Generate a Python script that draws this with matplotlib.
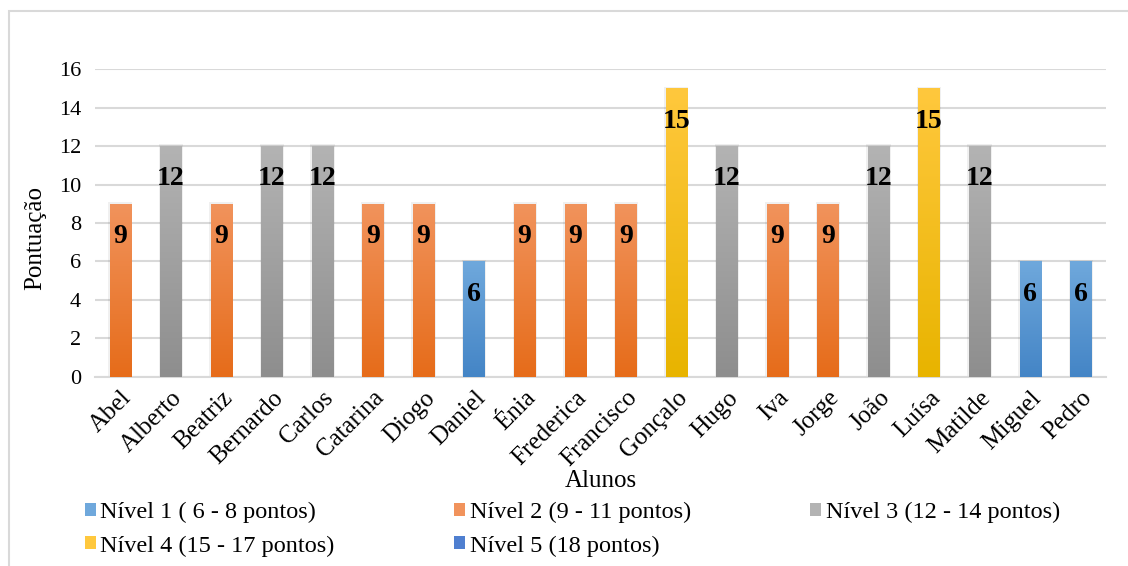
import numpy as np
import matplotlib.pyplot as plt
from matplotlib.patches import Patch, Rectangle
from matplotlib.colors import LinearSegmentedColormap

plt.rcParams['font.family'] = ['Liberation Serif', 'DejaVu Serif']

alunos = ['Abel', 'Alberto', 'Beatriz', 'Bernardo', 'Carlos', 'Catarina', 'Diogo',
          'Daniel', 'Énia', 'Frederica', 'Francisco', 'Gonçalo', 'Hugo', 'Iva',
          'Jorge', 'João', 'Luísa', 'Matilde', 'Miguel', 'Pedro']
pontos = [9, 12, 9, 12, 12, 9, 9, 6, 9, 9, 9, 15, 12, 9, 9, 12, 15, 12, 6, 6]

niveis = ['Nível 1 ( 6 - 8 pontos)', 'Nível 2 (9 - 11 pontos)', 'Nível 3 (12 - 14 pontos)',
          'Nível 4 (15 - 17 pontos)', 'Nível 5 (18 pontos)']
# (top colour, bottom colour) for each level's gradient
cores = [('#6FA8DC', '#4485C6'),
         ('#F1935C', '#E66C1A'),
         ('#B3B3B3', '#8E8E8E'),
         ('#FFC83D', '#E8B400'),
         ('#4F7FD0', '#2E5FB0')]


def nivel(p):
    if p <= 8:
        return 0
    if p <= 11:
        return 1
    if p <= 14:
        return 2
    if p <= 17:
        return 3
    return 4


fig = plt.figure(figsize=(11.28, 5.66), dpi=100)
ax = fig.add_axes([0.0842, 0.334, 0.8963, 0.544])

# chart border (Excel chart area)
fig.patches.append(Rectangle((9 / 1128, -0.1), 1.2, 1 - 11 / 566 + 0.1,
                             transform=fig.transFigure, fill=False,
                             edgecolor='#D9D9D9', linewidth=1.5))

x = np.arange(len(alunos))
w = 0.42
bars = ax.bar(x, pontos, width=w, color='none', zorder=3)

for b, p in zip(bars, pontos):
    top, bot = cores[nivel(p)]
    cmap = LinearSegmentedColormap.from_list('g', [bot, top])
    grad = np.linspace(0, 1, 100).reshape(-1, 1)
    x0 = b.get_x()
    im = ax.imshow(grad, cmap=cmap, origin='lower', aspect='auto',
                   extent=[x0, x0 + w, 0, p], zorder=3, interpolation='bicubic')
    im.set_clip_path(b)
    # soft shadow
    ax.add_patch(Rectangle((x0 - 0.03, 0), w + 0.06, p + 0.08, facecolor='#000000',
                           alpha=0.06, linewidth=0, zorder=2))
    ax.text(x0 + w / 2, p - 1.7, str(p), ha='center', va='center',
            fontsize=20, fontweight='bold', zorder=4)

ax.set_xlim(-0.5, len(alunos) - 0.5)
ax.set_ylim(0, 16)
ax.set_yticks(range(0, 17, 2))
ax.set_xticks(x)
ax.set_xticklabels(alunos, rotation=45, ha='right', va='top', rotation_mode='anchor')
ax.tick_params(axis='y', length=0, labelsize=16, pad=10)
ax.tick_params(axis='x', length=0, labelsize=18, pad=7)

ax.grid(axis='y', color='#D9D9D9', linewidth=1.5, zorder=0)
ax.set_axisbelow(True)
for s in ['top', 'right', 'left']:
    ax.spines[s].set_visible(False)
ax.spines['bottom'].set_color('#D9D9D9')
ax.spines['bottom'].set_linewidth(1.5)

ax.set_ylabel('Pontuação', fontsize=18, va='center')
ax.yaxis.set_label_coords(-0.059, 0.45)
ax.set_xlabel('Alunos', fontsize=18, va='center')
ax.xaxis.set_label_coords(0.5, -0.338)

# matplotlib fills legend columns first, so reorder to read row by row
ordem = [0, 3, 1, 4, 2]
handles = [Patch(facecolor=cores[i][0], edgecolor='none') for i in ordem]
fig.legend(handles, [niveis[i] for i in ordem], loc='upper left',
           bbox_to_anchor=(0.075, 0.113), ncol=3, frameon=False, fontsize=17.5,
           handlelength=0.45, handleheight=0.45, handletextpad=0.2,
           columnspacing=4.9, labelspacing=0.5, borderaxespad=0, borderpad=0)

fig.savefig('out.png', dpi=100)
